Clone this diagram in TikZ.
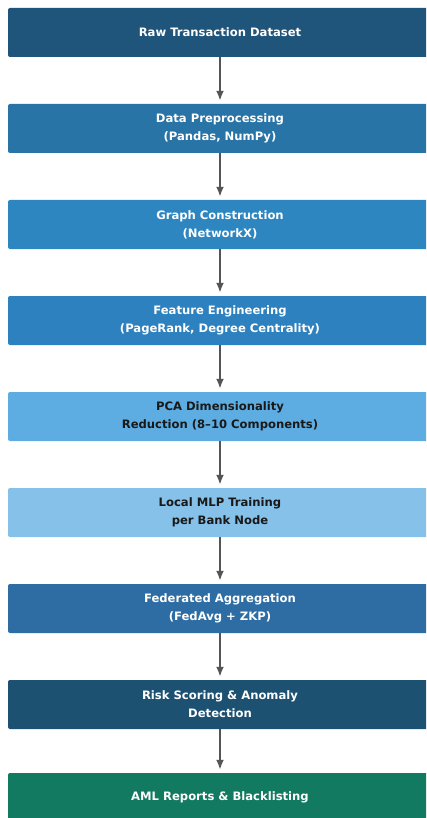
\documentclass[tikz,border=0pt]{standalone}
\usepackage{fontspec}
\setmainfont{DejaVu Sans}
\usepackage{xcolor}
\usepackage{tikz}
\usetikzlibrary{arrows.meta,positioning}

\definecolor{cRaw}{HTML}{1F557A}
\definecolor{cPrep}{HTML}{2874A6}
\definecolor{cGraph}{HTML}{2E86C1}
\definecolor{cFeat}{HTML}{2E81BF}
\definecolor{cPca}{HTML}{5DADE2}
\definecolor{cMlp}{HTML}{85C1E9}
\definecolor{cFed}{HTML}{2E6DA4}
\definecolor{cRisk}{HTML}{1D5172}
\definecolor{cAml}{HTML}{137A62}
\definecolor{cArrow}{HTML}{555555}

\begin{document}
\begin{tikzpicture}[
  x=1pt,y=-1pt,
  stage/.style={fill=#1,rounded corners=2pt,minimum width=424pt,minimum height=49pt,
    align=center,text=white,inner sep=0pt},
  darktext/.style={text=black!90},
  flow/.style={draw=cArrow,line width=2pt,-{Latex[length=10pt,width=8pt]},shorten >=3pt},
  every node/.style={font=\fontsize{11.6}{18}\selectfont\bfseries}
]
  \useasboundingbox (0,0) rectangle (426,818);
  \clip (0,0) rectangle (426,818);

  \node[stage=cRaw] (s1) at (220,32.5) {Raw Transaction Dataset};
  \node[stage=cPrep] (s2) at (220,128.5) {Data Preprocessing\\(Pandas, NumPy)};
  \node[stage=cGraph] (s3) at (220,224.5) {Graph Construction\\(NetworkX)};
  \node[stage=cFeat] (s4) at (220,320.5) {Feature Engineering\\(PageRank, Degree Centrality)};
  \node[stage=cPca,darktext] (s5) at (220,416.5) {PCA Dimensionality\\Reduction (8--10 Components)};
  \node[stage=cMlp,darktext] (s6) at (220,512.5) {Local MLP Training\\per Bank Node};
  \node[stage=cFed] (s7) at (220,608.5) {Federated Aggregation\\(FedAvg + ZKP)};
  \node[stage=cRisk] (s8) at (220,704.5) {Risk Scoring \& Anomaly\\Detection};
  \node[stage=cAml] (s9) at (220,797.5) {AML Reports \& Blacklisting};

  \foreach \a/\b in {s1/s2,s2/s3,s3/s4,s4/s5,s5/s6,s6/s7,s7/s8,s8/s9}
    \draw[flow] (\a.south) -- (\b.north);
\end{tikzpicture}
\end{document}
